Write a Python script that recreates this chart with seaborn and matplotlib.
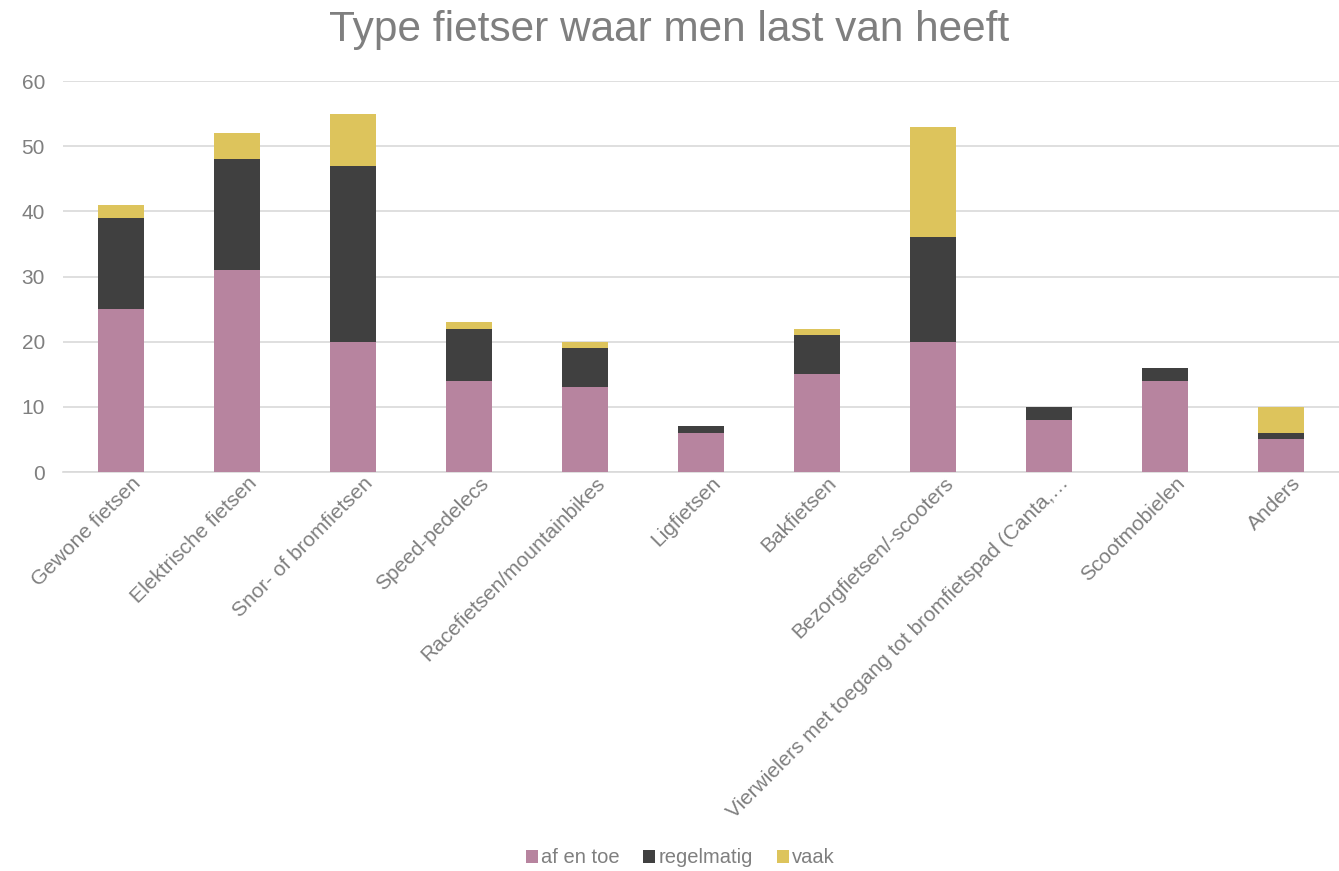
import numpy as np
import pandas as pd
import matplotlib
matplotlib.use("Agg")
import matplotlib.pyplot as plt
import matplotlib.transforms as mtransforms
import seaborn as sns
from matplotlib.patches import Patch

categories = [
    "Gewone fietsen",
    "Elektrische fietsen",
    "Snor- of bromfietsen",
    "Speed-pedelecs",
    "Racefietsen/mountainbikes",
    "Ligfietsen",
    "Bakfietsen",
    "Bezorgfietsen/-scooters",
    "Vierwielers met toegang tot bromfietspad (Canta,\u2026",
    "Scootmobielen",
    "Anders",
]
af_en_toe = [25, 31, 20, 14, 13, 6, 15, 20, 8, 14, 5]
regelmatig = [14, 17, 27, 8, 6, 1, 6, 16, 2, 2, 1]
vaak = [2, 4, 8, 1, 1, 0, 1, 17, 0, 0, 4]

series_names = ["af en toe", "regelmatig", "vaak"]
colors = ["#B7849F", "#404040", "#DDC45C"]
text_grey = "#7F7F7F"

sns.set_theme(style="white")
plt.rcParams["font.family"] = ["Liberation Sans", "DejaVu Sans"]

df = pd.DataFrame({
    "cat": categories,
    "af en toe": af_en_toe,
    "regelmatig": regelmatig,
    "vaak": vaak,
})
# cumulative heights, drawn tallest first so lower segments cover them
df["c1"] = df["af en toe"]
df["c2"] = df["c1"] + df["regelmatig"]
df["c3"] = df["c2"] + df["vaak"]

fig = plt.figure(figsize=(13.39, 8.71), dpi=100)
ax = fig.add_axes([0.047, 0.458, 0.953, 0.449])

for col, color in zip(["c3", "c2", "c1"], colors[::-1]):
    sns.barplot(data=df, x="cat", y=col, color=color, width=0.4,
                saturation=1, linewidth=0, ax=ax, zorder=3)

ax.set_ylim(0, 60)
ax.set_yticks(range(0, 61, 10))
ax.set_xlim(-0.5, len(categories) - 0.5)
ax.grid(True, axis="y", color="#D9D9D9", lw=1.2, zorder=0)
ax.set_axisbelow(True)
for s in ["top", "right", "left"]:
    ax.spines[s].set_visible(False)
ax.spines["bottom"].set_color("#D9D9D9")
ax.spines["bottom"].set_linewidth(1.2)
ax.set_xlabel("")
ax.set_ylabel("")
ax.tick_params(axis="both", length=0, colors=text_grey, labelsize=15)
ax.tick_params(axis="y", pad=13)
ax.tick_params(axis="x", pad=6)
ax.set_xticks(range(len(categories)))
ax.set_xticklabels(categories, rotation=45, ha="right", va="center",
                   rotation_mode="anchor")
shift = mtransforms.ScaledTranslation(0.17, 0, fig.dpi_scale_trans)
for lbl in ax.get_xticklabels():
    lbl.set_transform(lbl.get_transform() + shift)

fig.text(0.5, 0.966, "Type fietser waar men last van heeft", ha="center",
         va="center", fontsize=30.5, color=text_grey)

handles = [Patch(facecolor=c, edgecolor="none") for c in colors]
fig.legend(handles, series_names, loc="center", bbox_to_anchor=(0.508, 0.015),
           ncol=3, frameon=False, fontsize=14.5, labelcolor=text_grey,
           handlelength=0.6, handleheight=0.6, handletextpad=0.15,
           columnspacing=1.2)

fig.savefig("out.png", dpi=100)
